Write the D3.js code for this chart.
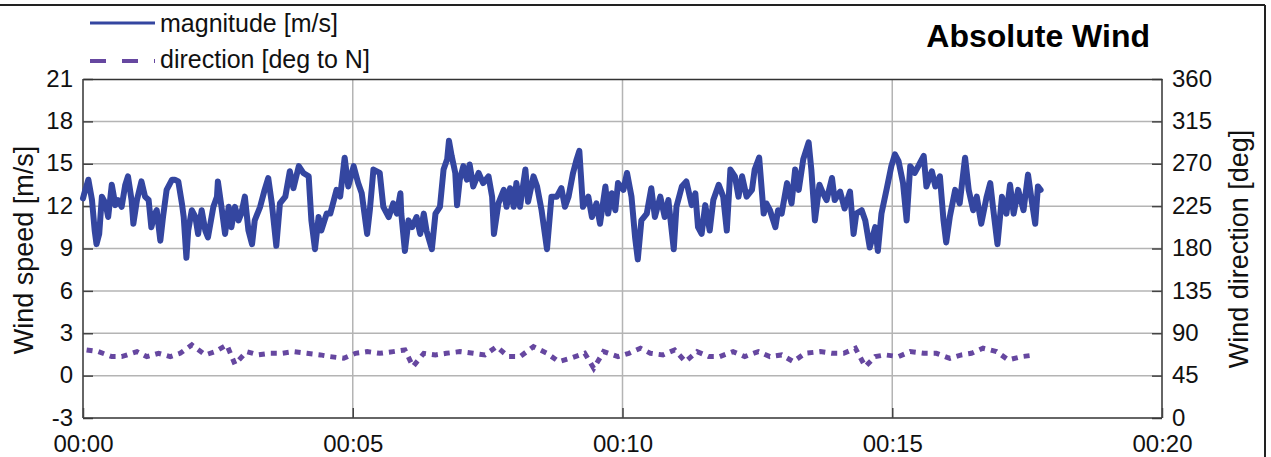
<!DOCTYPE html>
<html><head><meta charset="utf-8">
<script src="https://cdn.jsdelivr.net/npm/d3@7"></script>
<style>
html,body{margin:0;padding:0;background:#fff;}
svg{display:block;font-family:"Liberation Sans",Arial,sans-serif;}
</style></head><body>
<svg id="c" width="1271" height="457"></svg>
<script>
// ---- data (time in seconds, speed in m/s, direction in deg) ----
const magTime = [0,1,6,10,13,15,18,21,25,28,32,36,39,43,47,50,54,56,60,65,69,73,76,80,82,86,89,93,99,102,106,110,112,115,117,121,125,128,132,136,139,145,149,150,154,158,162,165,169,173,176,180,184,188,191,197,202,206,210,215,219,225,230,234,240,245,251,254,258,262,265,271,275,278,282,286,291,295,301,306,310,316,319,323,330,334,340,345,349,353,354,358,362,366,371,375,379,382,388,392,397,401,405,407,410,414,416,419,423,427,430,434,440,445,451,455,457,462,468,471,475,479,482,486,492,495,501,505,510,516,521,527,532,536,540,545,549,552,556,562,566,571,575,581,584,588,592,595,601,605,610,614,617,621,627,632,636,642,647,651,657,660,666,671,677,681,684,688,692,697,701,707,712,716,720,725,729,733,738,744,747,752,757,760,764,770,773,777,783,788,792,796,801,807,810,814,819,823,827,833,836,842,847,853,857,860,866,870,875,881,884,888,894,899,903,907,912,916,920,925,931,935,938,944,948,953,957,960,964,970,975,981,985,990,994,999,1005,1009,1012,1017,1022,1027,1031,1035,1040,1046,1051,1055,1059,1062,1065];
const magValue = [12.55,12.79,13.87,12.43,10.27,9.31,10.03,12.67,12.19,11.23,13.51,12.07,12.43,11.95,13.51,14.11,12.43,10.75,12.43,13.75,12.67,12.43,10.51,11.47,11.71,9.55,11.23,13.15,13.87,13.87,13.75,12.19,11.23,8.35,10.27,11.71,11.23,10.03,11.71,10.27,9.79,11.95,12.67,13.75,11.95,10.03,11.95,10.51,11.95,10.99,11.47,12.67,10.27,9.31,10.99,11.95,13.15,13.99,12.19,9.19,12.19,12.67,14.47,13.27,14.83,14.35,14.11,10.99,8.95,11.23,10.27,11.47,11.47,12.19,13.15,12.67,15.43,13.39,14.83,13.63,12.91,10.03,11.71,14.59,14.35,11.95,11.23,12.19,11.47,12.91,11.47,8.83,10.99,10.51,11.23,10.03,11.47,10.27,8.95,11.47,11.95,14.59,15.31,16.63,15.55,14.35,12.07,13.87,14.83,13.87,14.95,13.39,14.35,13.63,14.11,12.67,10.03,12.19,13.15,11.95,13.27,11.95,13.63,11.95,14.59,12.31,14.11,13.39,11.71,8.95,12.67,12.67,13.27,11.95,12.67,14.35,15.31,15.91,11.95,12.67,11.23,12.19,10.75,13.39,11.47,12.91,11.71,13.63,13.15,14.35,12.67,9.79,8.23,10.99,11.47,13.27,11.23,12.67,11.23,12.43,8.95,11.95,13.39,13.75,12.07,12.91,10.51,10.03,12.07,10.27,12.43,13.51,12.67,10.27,14.59,14.11,12.67,14.11,12.67,13.15,14.59,15.43,11.47,12.19,11.71,10.51,11.71,11.47,13.63,12.19,14.59,13.15,15.31,16.51,14.59,10.99,13.51,12.91,12.43,13.99,12.43,13.03,11.83,13.03,10.03,11.47,11.71,10.99,9.07,10.51,8.83,11.47,13.27,14.83,15.67,15.19,13.63,10.99,14.83,14.35,15.07,15.55,13.39,14.47,13.39,14.11,10.99,9.43,11.23,13.15,12.19,15.43,13.15,11.71,12.67,10.75,12.67,13.63,11.95,9.31,12.67,11.47,13.51,11.47,13.15,11.71,14.23,12.43,10.75,13.39,13.15];
const dirTime = [4,17,32,43,60,71,84,97,108,121,136,147,160,169,182,195,208,221,234,249,264,275,290,303,316,330,345,358,367,379,392,404,419,434,447,460,473,486,501,516,529,542,558,568,579,595,607,620,631,645,658,670,683,696,708,723,736,751,764,777,790,803,820,833,846,859,870,881,892,907,920,935,949,964,977,988,1001,1016,1029,1044,1059];
const dirValue = [72.3,70.5,65.2,65.2,70.5,65.2,68.7,65.2,68.7,77.6,67,70.5,77.6,57,70.5,67,68.7,68.7,70.5,68.7,67,65.2,63.4,68.7,70.5,68.7,70.5,72.3,54.6,68.7,67,68.7,70.5,68.7,67,75.8,65.2,65.2,75.8,68.7,59.9,63.4,68.7,52.8,70.5,65.2,68.7,74.1,68.7,67,72.3,59.9,70.5,65.2,65.2,70.5,65.2,70.5,65.2,67,59.9,68.7,70.5,68.7,68.7,74.1,54.6,65.2,67,65.2,70.5,68.7,68.7,63.4,67,68.7,74.1,70.5,61.7,65.2,67];
const speedTicks = [-3,0,3,6,9,12,15,18,21];
const dirTicks = [0,45,90,135,180,225,270,315,360];
const timeTicks = [0,300,600,900,1200];
const timeLabels = ["00:00","00:05","00:10","00:15","00:20"];
const seriesNames = ["magnitude [m/s]","direction [deg to N]"];
const titleText = "Absolute Wind";

// ---- layout ----
const L = 83, R = 1162, T = 79, B = 418;
const magColor = "#3446a0", dirColor = "#6647a0";
const svg = d3.select("#c");

const x = d3.scaleLinear().domain([0,1200]).range([L,R]);
const yS = d3.scaleLinear().domain([-3,21]).range([B,T]);
const yD = d3.scaleLinear().domain([0,360]).range([B,T]);

// outer frame
svg.append("line").attr("x1",0).attr("x2",1265).attr("y1",5).attr("y2",5).attr("stroke","#222").attr("stroke-width",2);
svg.append("line").attr("x1",1265).attr("x2",1265).attr("y1",5).attr("y2",457).attr("stroke","#222").attr("stroke-width",2);

// grid
const g = svg.append("g");
g.selectAll(".hg").data(speedTicks.slice(1,-1)).join("line")
  .attr("x1",L).attr("x2",R).attr("y1",d=>yS(d)).attr("y2",d=>yS(d))
  .attr("stroke","#b4b4b4").attr("stroke-width",1.5);
g.selectAll(".vg").data(timeTicks.slice(1,-1)).join("line")
  .attr("x1",d=>x(d)).attr("x2",d=>x(d)).attr("y1",T).attr("y2",B)
  .attr("stroke","#b4b4b4").attr("stroke-width",1.5);

// axes
const fs = 24;
const fmt = d => String(d);
const axL = svg.append("g").attr("transform",`translate(${L},0)`)
  .call(d3.axisLeft(yS).tickValues(speedTicks).tickSize(-10).tickPadding(10).tickFormat(fmt));
const axR = svg.append("g").attr("transform",`translate(${R},0)`)
  .call(d3.axisRight(yD).tickValues(dirTicks).tickSize(-10).tickPadding(10).tickFormat(fmt));
const axB = svg.append("g").attr("transform",`translate(0,${B})`)
  .call(d3.axisBottom(x).tickValues(timeTicks).tickSize(-10).tickPadding(0).tickFormat((d,i)=>timeLabels[i]));
const axT = svg.append("g").attr("transform",`translate(0,${T})`)
  .call(d3.axisTop(x).tickValues([]).tickSizeOuter(0));
[axL,axR,axB,axT].forEach(a=>{
  a.selectAll("path").attr("stroke","#333").attr("stroke-width",1.5);
  a.selectAll(".tick line").attr("stroke","#444").attr("stroke-width",1.5);
  a.selectAll("text").attr("fill","#111").style("font-size",fs+"px").style("font-family","'Liberation Sans',Arial,sans-serif");
});
axL.select(".domain").attr("d",`M0,${T}V${B}`);
axR.select(".domain").attr("d",`M0,${T}V${B}`);
axB.select(".domain").attr("d",`M${L},0H${R}`);
axB.selectAll("text").attr("y",null).attr("dy",null).attr("transform","translate(0,33.5)");
axL.selectAll("text").attr("dy","0.3em");
axR.selectAll("text").attr("dy","0.3em");

// data lines
const magData = magTime.map((t,i)=>[t,magValue[i]]);
const dirData = dirTime.map((t,i)=>[t,dirValue[i]]);
svg.append("path").datum(magData)
  .attr("d",d3.line().x(d=>x(d[0])).y(d=>yS(d[1])))
  .attr("fill","none").attr("stroke",magColor).attr("stroke-width",6)
  .attr("stroke-linejoin","round").attr("stroke-linecap","round");
svg.append("path").datum(dirData)
  .attr("d",d3.line().x(d=>x(d[0])).y(d=>yD(d[1])))
  .attr("fill","none").attr("stroke",dirColor).attr("stroke-width",5)
  .attr("stroke-dasharray","6,6").attr("stroke-linecap","butt");

// axis titles
svg.append("text").attr("transform","translate(33,250) rotate(-90)")
  .attr("text-anchor","middle").style("font-size","27px").attr("fill","#111").text("Wind speed [m/s]");
svg.append("text").attr("transform","translate(1248,249) rotate(-90)")
  .attr("text-anchor","middle").style("font-size","27px").attr("fill","#111").text("Wind direction [deg]");

// title
svg.append("text").attr("x",1150).attr("y",47).attr("text-anchor","end")
  .style("font-size","32px").style("font-weight","bold").attr("fill","#000").text(titleText);

// legend
svg.append("line").attr("x1",90).attr("x2",155).attr("y1",23).attr("y2",23)
  .attr("stroke",magColor).attr("stroke-width",3);
svg.append("line").attr("x1",90).attr("x2",155).attr("y1",61).attr("y2",61)
  .attr("stroke",dirColor).attr("stroke-width",4).attr("stroke-dasharray","16,16");
svg.append("text").attr("x",160).attr("y",32).style("font-size","25px").attr("fill","#111").text(seriesNames[0]);
svg.append("text").attr("x",160).attr("y",68).style("font-size","25px").attr("fill","#111").text(seriesNames[1]);
</script>
</body></html>
